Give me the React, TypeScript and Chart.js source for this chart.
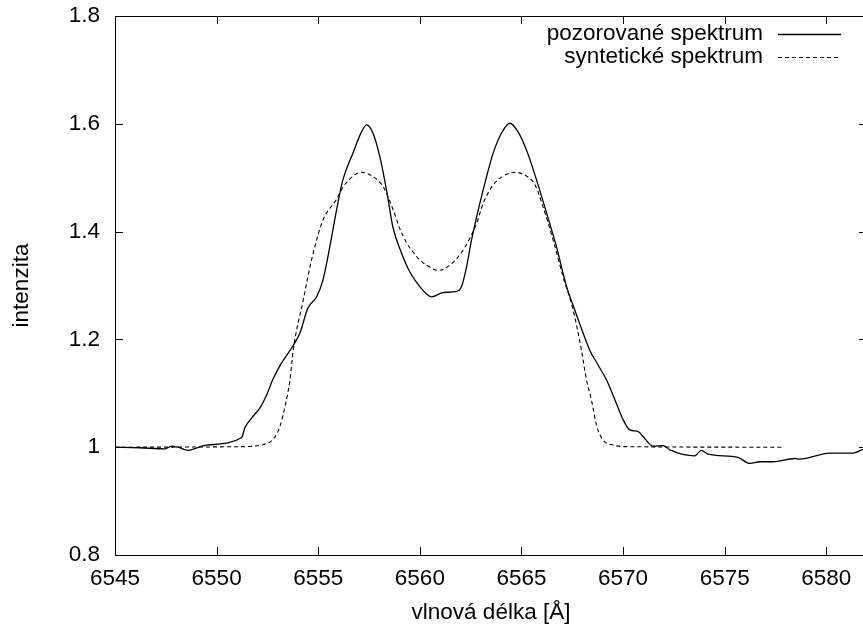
import React, { useEffect, useRef } from "react";
import { Chart, registerables } from "chart.js";

Chart.register(...registerables);

// ---- data ----
const observedWavelength = [
  6545.0, 6546.2, 6547.46, 6547.79, 6548.1, 6548.59, 6548.98, 6549.51, 6551.23, 6551.39,
  6551.72, 6552.13, 6552.46, 6552.76, 6553.16, 6553.69, 6554.1, 6554.49, 6554.92, 6555.23,
  6555.57, 6555.9, 6556.21, 6556.71, 6557.13, 6557.38, 6557.69, 6558.03, 6558.36, 6558.67,
  6559.1, 6559.51, 6560.0, 6560.58, 6561.15, 6561.81, 6562.05, 6562.3, 6562.54, 6562.87,
  6563.2, 6563.61, 6564.02, 6564.43, 6564.83, 6565.25, 6565.74, 6566.23, 6566.72, 6567.22,
  6567.62, 6568.03, 6568.36, 6568.76, 6569.18, 6569.67, 6570.0, 6570.33, 6570.74, 6570.98,
  6571.47, 6571.97, 6572.3, 6573.52, 6573.85, 6574.18, 6575.65, 6576.23, 6576.72, 6577.38,
  6578.44, 6578.69, 6580.17, 6581.31, 6581.79,
];
const observedIntensity = [
  1.0, 0.999, 0.997, 1.002, 1.0, 0.994, 0.998, 1.004, 1.018, 1.036,
  1.054, 1.073, 1.097, 1.125, 1.154, 1.184, 1.212, 1.258, 1.279, 1.31,
  1.372, 1.44, 1.496, 1.546, 1.585, 1.598, 1.583, 1.539, 1.477, 1.409,
  1.36, 1.325, 1.298, 1.279, 1.287, 1.289, 1.298, 1.335, 1.384, 1.44,
  1.49, 1.546, 1.583, 1.601, 1.585, 1.551, 1.496, 1.435, 1.372, 1.298,
  1.255, 1.212, 1.18, 1.153, 1.125, 1.081, 1.051, 1.032, 1.029, 1.02,
  1.002, 1.003, 0.995, 0.984, 0.994, 0.987, 0.981, 0.97, 0.973, 0.973,
  0.979, 0.978, 0.989, 0.989, 0.996,
];
const syntheticWavelength = [
  6545.0, 6551.15, 6552.29, 6552.79, 6553.11, 6553.36, 6553.61, 6553.77, 6554.26, 6554.75,
  6555.24, 6555.9, 6556.23, 6556.72, 6557.13, 6557.7, 6558.2, 6558.69, 6559.02, 6559.35,
  6559.67, 6560.0, 6560.33, 6560.9, 6561.48, 6562.13, 6562.79, 6563.11, 6563.61, 6564.1,
  6564.67, 6565.16, 6565.66, 6566.06, 6566.56, 6567.05, 6567.54, 6567.95, 6568.2, 6568.44,
  6568.69, 6569.02, 6569.51, 6570.17, 6577.84,
];
const syntheticIntensity = [
  1.0, 1.001, 1.005, 1.015, 1.038, 1.075, 1.125, 1.18, 1.273, 1.36,
  1.422, 1.46, 1.483, 1.503, 1.51, 1.502, 1.483, 1.44, 1.405, 1.379,
  1.362, 1.347, 1.338, 1.328, 1.338, 1.366, 1.415, 1.452, 1.487, 1.503,
  1.51, 1.505, 1.487, 1.446, 1.384, 1.316, 1.255, 1.18, 1.125, 1.088,
  1.041, 1.013, 1.004, 1.001, 1.0,
];
const xTicks = [6545, 6550, 6555, 6560, 6565, 6570, 6575, 6580];
const yTicks = [0.8, 1, 1.2, 1.4, 1.6, 1.8];
const seriesNames = ["pozorované spektrum", "syntetické spektrum"];
const xTitle = "vlnová délka [Å]";
const yTitle = "intenzita";

const FONT = '"Liberation Sans", Arial, Helvetica, sans-serif';
const FONT_SIZE = 22.5;

const framePlugin = {
  id: "gpFrame",
  afterDatasetsDraw(chart: any) {
    const { ctx, chartArea: a, scales } = chart;
    ctx.save();
    ctx.strokeStyle = "#000";
    ctx.lineWidth = 1;
    ctx.setLineDash([]);
    ctx.strokeRect(a.left + 0.5, a.top + 0.5, a.right - a.left, a.bottom - a.top);
    const tl = 8;
    ctx.beginPath();
    for (const v of xTicks) {
      const px = Math.round(scales.x.getPixelForValue(v)) + 0.5;
      ctx.moveTo(px, a.bottom);
      ctx.lineTo(px, a.bottom - tl);
      ctx.moveTo(px, a.top);
      ctx.lineTo(px, a.top + tl);
    }
    for (const v of yTicks) {
      const py = Math.round(scales.y.getPixelForValue(v)) + 0.5;
      ctx.moveTo(a.left, py);
      ctx.lineTo(a.left + tl, py);
      ctx.moveTo(a.right, py);
      ctx.lineTo(a.right - tl, py);
    }
    ctx.stroke();

    // legend (gnuplot style: text right-aligned, sample on the right)
    chart.data.datasets.forEach((ds: any, i: number) => {
      const y = a.top + 18 + i * 23;
      ctx.font = `${FONT_SIZE}px ${FONT}`;
      ctx.textAlign = "right";
      ctx.textBaseline = "middle";
      ctx.fillStyle = "#000";
      ctx.fillText(ds.label, a.right - 104, y);
      ctx.strokeStyle = ds.borderColor;
      ctx.lineWidth = ds.borderWidth;
      ctx.setLineDash(ds.borderDash || []);
      ctx.beginPath();
      ctx.moveTo(a.right - 89, y + 0.5);
      ctx.lineTo(a.right - 26, y + 0.5);
      ctx.stroke();
    });
    ctx.restore();
  },
};

export default function App() {
  const canvasRef = useRef<HTMLCanvasElement | null>(null);

  useEffect(() => {
    const canvas = canvasRef.current;
    if (!canvas) return;
    const chart = new Chart(canvas, {
      type: "line",
      data: {
        datasets: [
          {
            label: seriesNames[0],
            data: observedWavelength.map((x, i) => ({ x, y: observedIntensity[i] })),
            borderColor: "#000",
            borderWidth: 1.3,
            pointRadius: 0,
            cubicInterpolationMode: "monotone",
            fill: false,
          },
          {
            label: seriesNames[1],
            data: syntheticWavelength.map((x, i) => ({ x, y: syntheticIntensity[i] })),
            borderColor: "#000",
            borderWidth: 1.1,
            borderDash: [4, 3],
            pointRadius: 0,
            cubicInterpolationMode: "monotone",
            fill: false,
          },
        ],
      },
      options: {
        responsive: false,
        animation: false,
        devicePixelRatio: 1,
        layout: { padding: { left: 0, right: 3, top: 16, bottom: 0 } },
        plugins: { legend: { display: false }, tooltip: { enabled: false } },
        scales: {
          x: {
            type: "linear",
            min: 6545,
            max: 6582,
            afterBuildTicks: (s: any) => {
              s.ticks = xTicks.map((v) => ({ value: v }));
            },
            afterFit: (s: any) => {
              s.height = 73;
              s.paddingLeft = 0;
              s.paddingRight = 0;
            },
            grid: { display: false, drawTicks: false },
            border: { display: false },
            ticks: {
              color: "#000",
              font: { family: FONT, size: FONT_SIZE },
              padding: 10,
              maxRotation: 0,
              autoSkip: false,
              callback: (v: any) => String(v),
            },
            title: {
              display: true,
              text: xTitle,
              color: "#000",
              font: { family: FONT, size: FONT_SIZE, lineHeight: 1 },
              padding: { top: 0, bottom: 4 },
            },
          },
          y: {
            type: "linear",
            min: 0.8,
            max: 1.8,
            afterBuildTicks: (s: any) => {
              s.ticks = yTicks.map((v) => ({ value: v }));
            },
            afterFit: (s: any) => {
              s.width = 115;
              s.paddingTop = 0;
              s.paddingBottom = 0;
            },
            grid: { display: false, drawTicks: false },
            border: { display: false },
            ticks: {
              color: "#000",
              font: { family: FONT, size: FONT_SIZE },
              padding: 15,
              autoSkip: false,
              callback: (v: any) => String(v),
            },
            title: {
              display: true,
              text: yTitle,
              color: "#000",
              font: { family: FONT, size: FONT_SIZE, lineHeight: 1 },
              padding: { top: 11, bottom: 0 },
            },
          },
        },
      },
      plugins: [framePlugin],
    });
    return () => chart.destroy();
  }, []);

  return (
    <div
      style={{
        position: "fixed",
        left: 0,
        top: 0,
        width: 863,
        height: 628,
        overflow: "hidden",
        background: "#fff",
      }}
    >
      <canvas
        ref={canvasRef}
        width={870}
        height={628}
        style={{ display: "block", width: 870, height: 628 }}
      />
    </div>
  );
}
